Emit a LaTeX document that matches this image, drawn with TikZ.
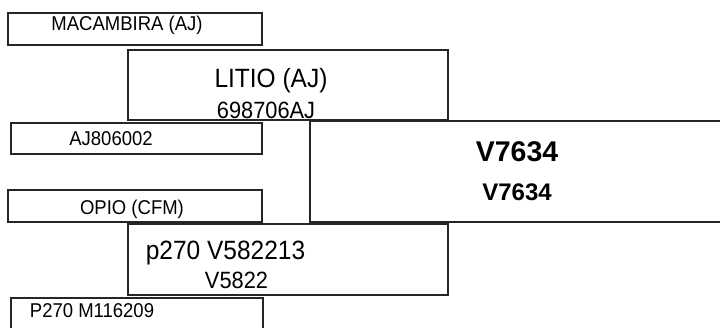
\documentclass[tikz,border=0pt]{standalone}
\usepackage{fontspec}
\setmainfont{Liberation Sans}
\begin{document}
\begin{tikzpicture}[x=1pt,y=-1pt,
  box/.style={draw=black!85, line width=1.8pt, rectangle, inner sep=0pt, anchor=north west},
  small/.style={inner sep=0pt, yscale=1.08, font=\fontsize{18.5}{20}\selectfont},
  big/.style={inner sep=0pt, yscale=1.08, font=\fontsize{24.5}{26}\selectfont},
  mid/.style={inner sep=0pt, yscale=1.08, font=\fontsize{21.8}{24}\selectfont},
  boldbig/.style={inner sep=0pt, font=\bfseries\fontsize{28.5}{30}\selectfont},
  boldmid/.style={inner sep=0pt, font=\bfseries\fontsize{24}{26}\selectfont}]
\useasboundingbox (0,0) rectangle (720,327);
% boxes
\node[box, minimum width=254pt, minimum height=32pt] (mac) at (7,12) {};
\node[box, minimum width=320pt, minimum height=70pt] (litio) at (127,49) {};
\node[box, minimum width=251pt, minimum height=31pt] (aj) at (10,122) {};
\node[box, minimum width=420pt, minimum height=101pt] (v) at (309,120) {};
\node[box, minimum width=254pt, minimum height=32pt] (opio) at (7,189) {};
\node[box, minimum width=320pt, minimum height=71pt] (p) at (127,223) {};
\node[box, minimum width=252pt, minimum height=40pt] (pm) at (10,297) {};
% texts
\node[small] (tmac) at (127,25.5) {MACAMBIRA (AJ)};
\node[big] (tlitio) at (271,81) {LITIO (AJ)};
\node[mid] (tlitio2) at (266,110) {698706AJ};
\node[small] (taj) at (111,138.5) {AJ806002};
\node[boldbig] (tv1) at (517,152) {V7634};
\node[boldmid] (tv2) at (517,192.5) {V7634};
\node[small] (topio) at (132,209) {OPIO (CFM)};
\node[big] (tp1) at (225.5,253) {p270 V582213};
\node[mid] (tp2) at (236.5,280.5) {V5822};
\node[small] (tpm) at (92,310.5) {P270 M116209};
\end{tikzpicture}
\end{document}
